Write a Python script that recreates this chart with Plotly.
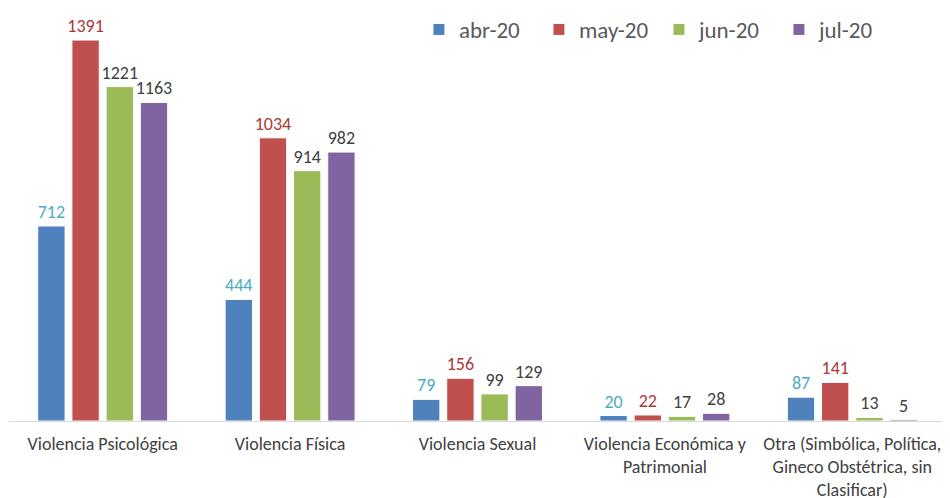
import plotly.graph_objects as go

categorias = ["Violencia Psicológica", "Violencia Física", "Violencia Sexual",
              "Violencia Económica y<br>Patrimonial",
              "Otra (Simbólica, Política,<br>Gineco Obstétrica, sin<br>Clasificar)"]
meses = ["abr-20", "may-20", "jun-20", "jul-20"]
abr_20 = [712, 444, 79, 20, 87]
may_20 = [1391, 1034, 156, 22, 141]
jun_20 = [1221, 914, 99, 17, 13]
jul_20 = [1163, 982, 129, 28, 5]

series = [abr_20, may_20, jun_20, jul_20]
colores = ["#4F81BD", "#C0504D", "#9BBB59", "#8064A2"]
colores_texto = ["#4BACC6", "#A93A36", "#404040", "#404040"]

fig = go.Figure()
for nombre, valores, color, ctexto in zip(meses, series, colores, colores_texto):
    fig.add_trace(go.Bar(
        x=categorias, y=valores, name=nombre,
        marker=dict(color=color, line=dict(color="white", width=1)),
        text=valores, textposition="outside",
        textfont=dict(color=ctexto, size=18),
        cliponaxis=False
    ))

# la pagina tiene 8px de margen, por eso 942x490
fig.update_layout(
    width=942, height=490,
    margin=dict(l=1, r=4, t=0, b=77),
    plot_bgcolor="white", paper_bgcolor="white",
    font=dict(family="Carlito, Lato, Noto Sans", color="#404040"),
    barmode="group", bargap=0.27, bargroupgap=0.2,
    uniformtext=dict(minsize=18, mode="show"),
    legend=dict(orientation="h", x=0.4375, xanchor="left", y=1.0, yanchor="top",
                font=dict(size=23, color="#595959"), itemwidth=30,
                entrywidth=75, entrywidthmode="pixels",
                traceorder="normal"),
    xaxis=dict(showline=True, linecolor="#D9D9D9", linewidth=1,
               tickfont=dict(size=18, color="#404040"), ticks="",
               ticklabelstandoff=6, automargin=False),
    yaxis=dict(range=[0, 1508], visible=False, showgrid=False)
)

fig.write_html("out.html")
